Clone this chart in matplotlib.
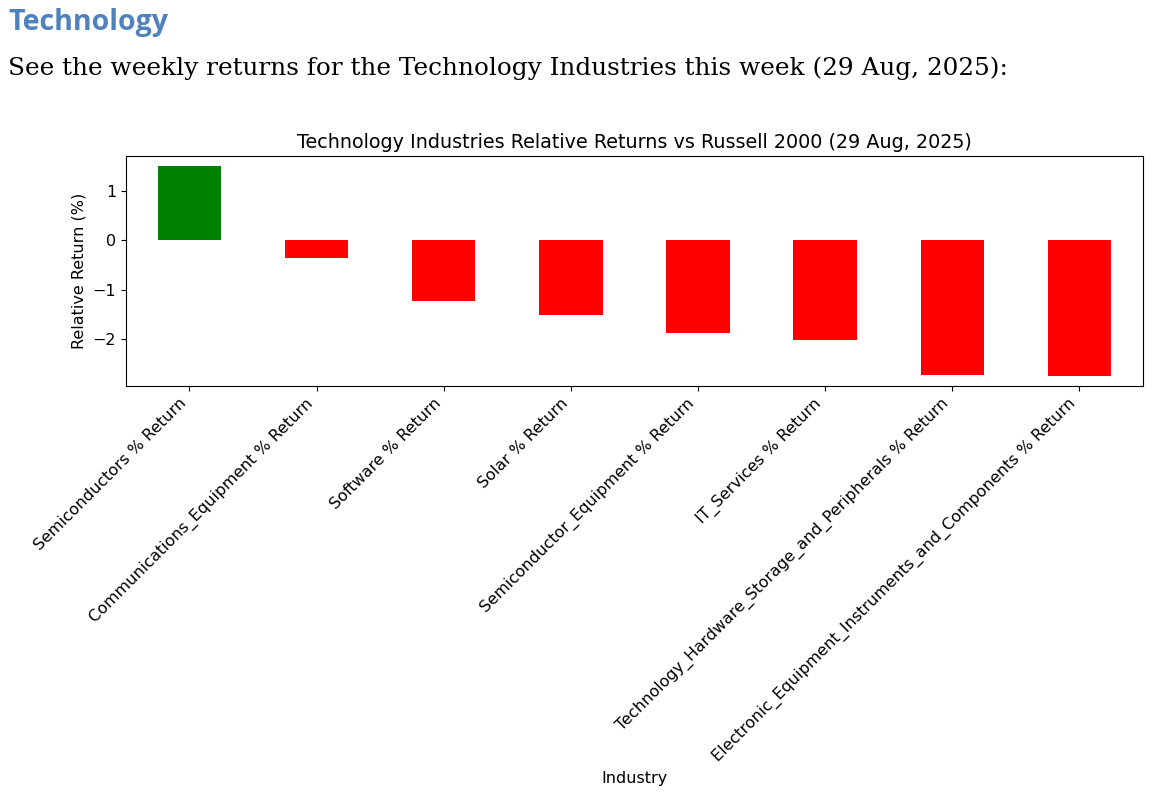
import matplotlib
matplotlib.use("Agg")
import matplotlib.pyplot as plt
import numpy as np

# data
industries = ['Semiconductors % Return',
              'Communications_Equipment % Return',
              'Software % Return',
              'Solar % Return',
              'Semiconductor_Equipment % Return',
              'IT_Services % Return',
              'Technology_Hardware_Storage_and_Peripherals % Return',
              'Electronic_Equipment_Instruments_and_Components % Return']
rel_returns = [1.50, -0.36, -1.22, -1.52, -1.88, -2.02, -2.72, -2.74]

colors = ['green' if v > 0 else 'red' for v in rel_returns]

fig = plt.figure(figsize=(11.54, 8), dpi=100)

# document text above the chart
fig.text(0.007, 0.972, 'Technology', fontsize=20.5, fontweight='bold',
         color='#4F81BD', family='Open Sans', va='center', ha='left')
fig.text(0.007, 0.915, 'See the weekly returns for the Technology Industries this week (29 Aug, 2025):',
         fontsize=17.8, family='DejaVu Serif', va='center', ha='left')

ax = fig.add_axes([0.109, 0.5175, 0.8815, 0.2875])
x = np.arange(len(industries))
ax.bar(x, rel_returns, width=0.5, color=colors)
ax.set_xlim(-0.5, len(industries) - 0.5)
ax.set_xticks(x)
ax.set_xticklabels(industries, rotation=45, ha='right', fontsize=11.5)
ax.tick_params(axis='y', labelsize=11.5)
ax.set_title('Technology Industries Relative Returns vs Russell 2000 (29 Aug, 2025)', fontsize=13.8)
ax.set_ylabel('Relative Return (%)', fontsize=11.5)
ax.set_xlabel('Industry', fontsize=11.5)

fig.savefig('out.png', dpi=100)
